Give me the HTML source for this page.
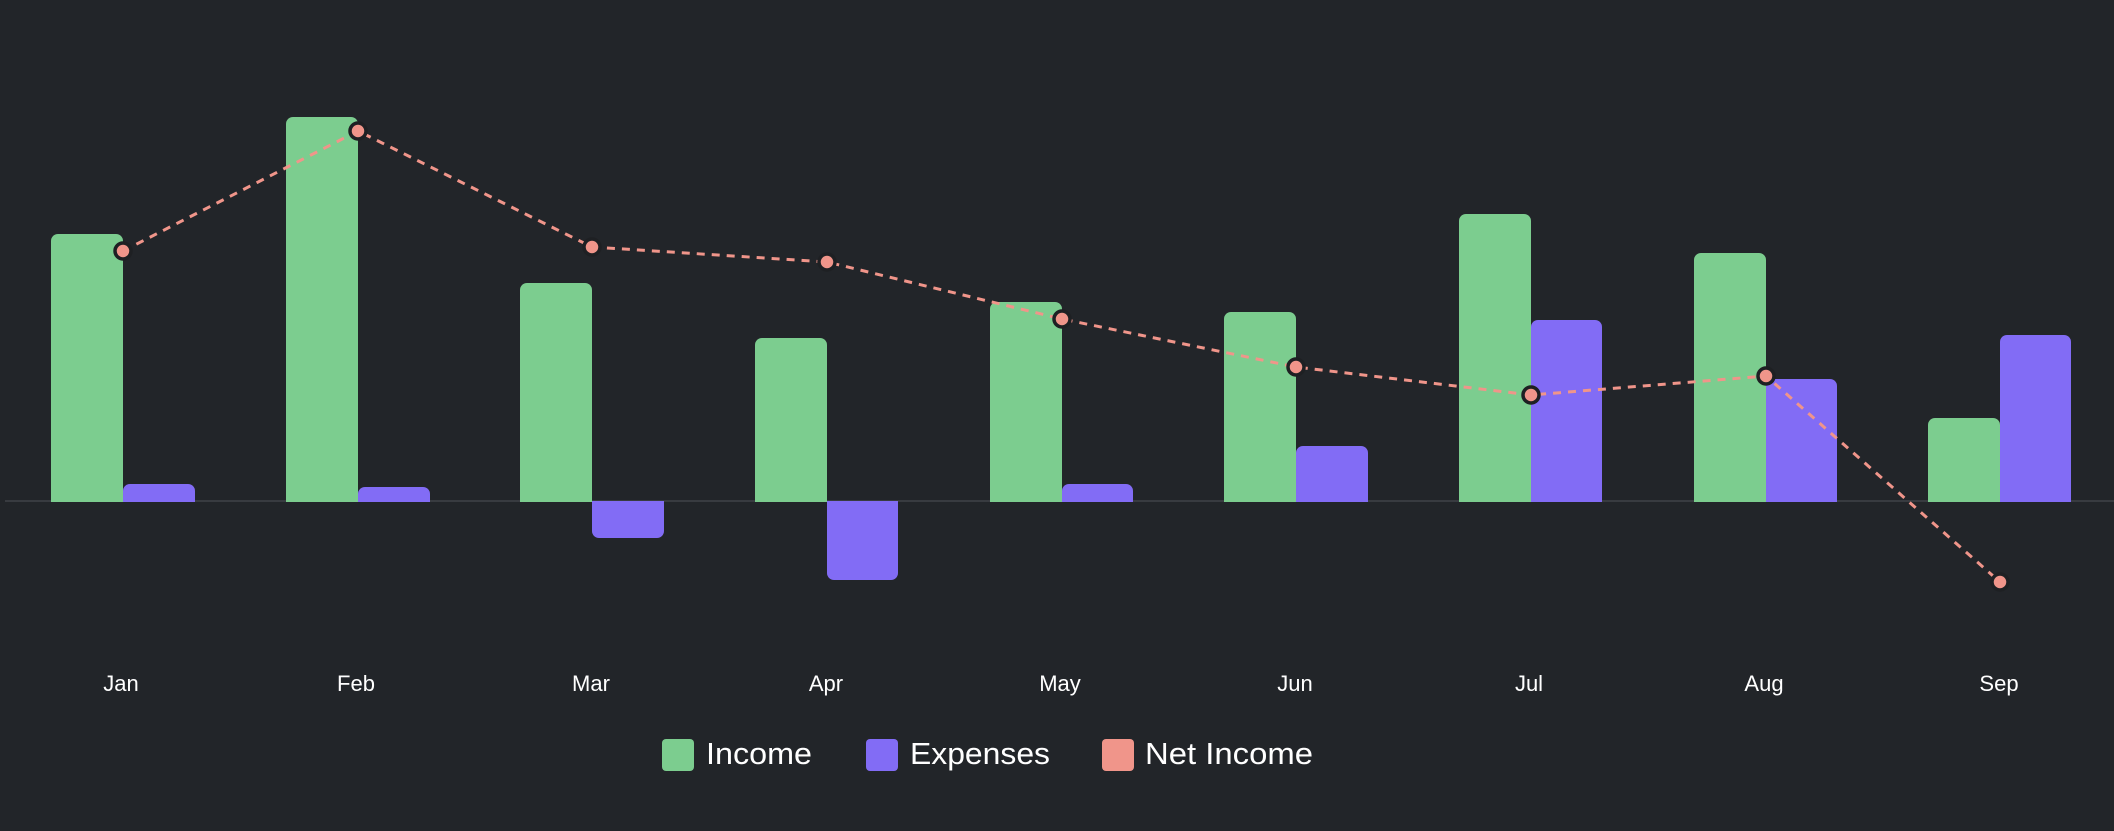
<!DOCTYPE html>
<html><head><meta charset="utf-8"><style>
html,body{margin:0;padding:0;background:#222529;}
svg{display:block;}
text{font-family:"Liberation Sans",sans-serif;fill:#ffffff;}
</style></head><body>
<svg width="2114" height="831" viewBox="0 0 2114 831" xmlns="http://www.w3.org/2000/svg">
<rect width="2114" height="831" fill="#222529"/>
<line x1="5" y1="501" x2="2114" y2="501" stroke="#383b40" stroke-width="2"/>
<g fill="#7ccd8f">
<path d="M51,502V241a7,7 0 0 1 7-7H116a7,7 0 0 1 7,7V502Z"/>
<path d="M286,502V124a7,7 0 0 1 7-7H351a7,7 0 0 1 7,7V502Z"/>
<path d="M520,502V290a7,7 0 0 1 7-7H585a7,7 0 0 1 7,7V502Z"/>
<path d="M755,502V345a7,7 0 0 1 7-7H820a7,7 0 0 1 7,7V502Z"/>
<path d="M990,502V309a7,7 0 0 1 7-7H1055a7,7 0 0 1 7,7V502Z"/>
<path d="M1224,502V319a7,7 0 0 1 7-7H1289a7,7 0 0 1 7,7V502Z"/>
<path d="M1459,502V221a7,7 0 0 1 7-7H1524a7,7 0 0 1 7,7V502Z"/>
<path d="M1694,502V260a7,7 0 0 1 7-7H1759a7,7 0 0 1 7,7V502Z"/>
<path d="M1928,502V425a7,7 0 0 1 7-7H1993a7,7 0 0 1 7,7V502Z"/>
</g>
<g fill="#826cf5">
<path d="M123,502V491a7,7 0 0 1 7-7H188a7,7 0 0 1 7,7V502Z"/>
<path d="M358,502V494a7,7 0 0 1 7-7H423a7,7 0 0 1 7,7V502Z"/>
<path d="M592,501V531a7,7 0 0 0 7,7H657a7,7 0 0 0 7-7V501Z"/>
<path d="M827,501V573a7,7 0 0 0 7,7H891a7,7 0 0 0 7-7V501Z"/>
<path d="M1062,502V491a7,7 0 0 1 7-7H1126a7,7 0 0 1 7,7V502Z"/>
<path d="M1296,502V453a7,7 0 0 1 7-7H1361a7,7 0 0 1 7,7V502Z"/>
<path d="M1531,502V327a7,7 0 0 1 7-7H1595a7,7 0 0 1 7,7V502Z"/>
<path d="M1766,502V386a7,7 0 0 1 7-7H1830a7,7 0 0 1 7,7V502Z"/>
<path d="M2000,502V342a7,7 0 0 1 7-7H2064a7,7 0 0 1 7,7V502Z"/>
</g>
<polyline points="123,251 358,131 592,247 827,262 1062,319 1296,367 1531,395 1766,376 2000,582" fill="none" stroke="#f0958a" stroke-width="3" stroke-dasharray="8,7"/>
<g fill="#f0958a" stroke="#1e2023" stroke-width="3.5">
<circle cx="123" cy="251" r="8"/><circle cx="358" cy="131" r="8"/><circle cx="592" cy="247" r="8"/>
<circle cx="827" cy="262" r="8"/><circle cx="1062" cy="319" r="8"/><circle cx="1296" cy="367" r="8"/>
<circle cx="1531" cy="395" r="8"/><circle cx="1766" cy="376" r="8"/><circle cx="2000" cy="582" r="8"/>
</g>
<g font-size="22" text-anchor="middle">
<text x="121" y="691">Jan</text><text x="356" y="691">Feb</text><text x="591" y="691">Mar</text>
<text x="826" y="691">Apr</text><text x="1060" y="691">May</text><text x="1295" y="691">Jun</text>
<text x="1529" y="691">Jul</text><text x="1764" y="691">Aug</text><text x="1999" y="691">Sep</text>
</g>
<rect x="662" y="739" width="32" height="32" rx="4" fill="#7ccd8f"/>
<rect x="866" y="739" width="32" height="32" rx="4" fill="#826cf5"/>
<rect x="1102" y="739" width="32" height="32" rx="4" fill="#f0958a"/>
<g font-size="31">
<text x="706" y="764" textLength="106" lengthAdjust="spacingAndGlyphs">Income</text>
<text x="910" y="764" textLength="140" lengthAdjust="spacingAndGlyphs">Expenses</text>
<text x="1145" y="764" textLength="168" lengthAdjust="spacingAndGlyphs">Net Income</text>
</g>
</svg>
</body></html>
